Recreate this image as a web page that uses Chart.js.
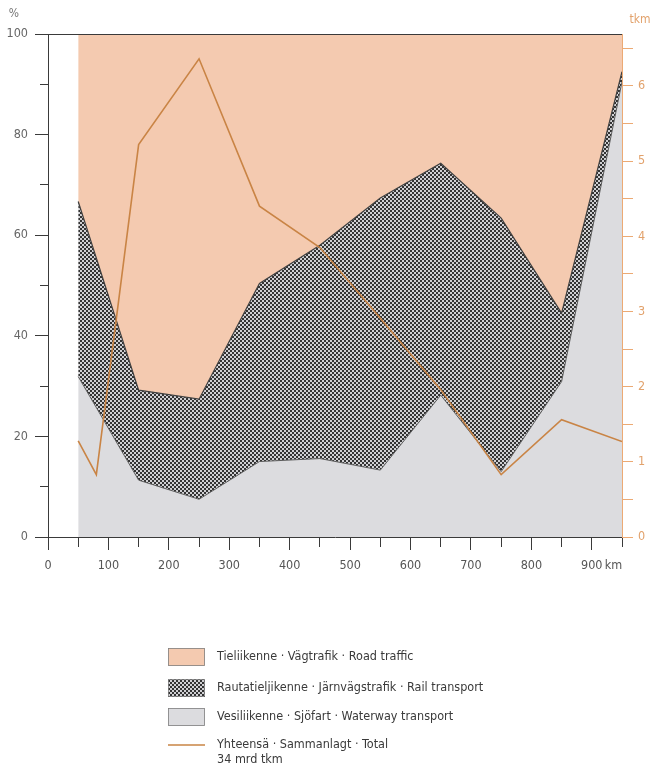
<!DOCTYPE html>
<html>
<head>
<meta charset="utf-8">
<script src="https://cdn.jsdelivr.net/npm/chart.js@4.4.1/dist/chart.umd.min.js"></script>
<style>
  body { margin: 0; background: #fff; }
  canvas { display: block; }
</style>
</head>
<body>
<canvas id="transport-share" width="651" height="770"></canvas>
<script>
// distance bands (km) and modal shares (%)
var distanceKm = [50, 150, 250, 350, 450, 550, 650, 750, 850, 950];
var waterShare = [31.9, 11.3, 7.5, 15.0, 15.6, 13.3, 28.2, 13.0, 30.9, 90.5];
var railShare  = [34.8, 17.9, 19.9, 35.4, 42.4, 54.1, 46.1, 50.4, 13.6, 2.0];
var roadShare  = [33.3, 70.8, 72.6, 49.6, 42.0, 32.6, 25.7, 36.6, 55.5, 7.5];

// total transport work, mrd tkm
var totalKm  = [50, 80, 150, 250, 350, 450, 550, 650, 750, 850, 950];
var totalTkm = [1.28, 0.83, 5.22, 6.36, 4.40, 3.85, 2.91, 1.96, 0.83, 1.56, 1.27];

var seriesLabels = [
    "Tieliikenne · Vägtrafik · Road traffic",
    "Rautatieljikenne · Järnvägstrafik · Rail transport",
    "Vesiliikenne · Sjöfart · Waterway transport",
    "Yhteensä · Sammanlagt · Total"
];
var totalNote = "34 mrd tkm";

var FONT = "'Liberation Sans Narrow', 'DejaVu Sans Condensed', 'Roboto', sans-serif";
var ROAD = "#f4cab0";
var WATER = "#dcdcdf";
var TOTAL = "#c98445";
var AXIS_ORANGE = "#ecaa74";
var DARK = "#3a3a3a";

var canvas = document.getElementById("transport-share");
var ctx = canvas.getContext("2d");

// checkered dot fill for rail
var tile = document.createElement("canvas");
tile.width = 4; tile.height = 4;
var tc = tile.getContext("2d");
tc.fillStyle = "#d0d0d3";
tc.fillRect(0, 0, 4, 4);
tc.fillStyle = "#333333";
tc.fillRect(0, 0, 2, 2);
tc.fillRect(2, 2, 2, 2);
var RAIL = ctx.createPattern(tile, "repeat");

function points(xs, ys) {
    return xs.map(function(x, i) { return { x: x, y: ys[i] }; });
}

var extras = {
    id: "extras",
    afterDraw: function(chart) {
        var c = chart.ctx;
        var area = chart.chartArea;
        var xs = chart.scales.x;
        c.save();
        // top frame line
        c.strokeStyle = DARK;
        c.lineWidth = 1;
        c.beginPath();
        c.moveTo(area.left, area.top + 0.5);
        c.lineTo(area.right, area.top + 0.5);
        c.stroke();

        c.font = "12px " + FONT;
        c.textBaseline = "middle";
        c.fillStyle = "#777";
        c.textAlign = "center";
        c.fillText("%", area.left - 34, area.top - 20);
        c.fillStyle = "#e2a26c";
        c.fillText("tkm", area.right + 18, area.top - 14);
        c.fillStyle = "#555";
        c.font = "12.5px " + FONT;
        c.textAlign = "left";
        c.fillText("km", xs.getPixelForValue(900) + 13, xs.top + 28.5);

        // legend
        var fills = [ROAD, RAIL, WATER];
        var rows = [657, 688, 717];
        c.font = "12.5px " + FONT;
        for (var i = 0; i < 3; i++) {
            c.fillStyle = fills[i];
            c.fillRect(168, rows[i] - 9, 37, 18);
            c.strokeStyle = "#808080";
            c.lineWidth = 0.8;
            c.strokeRect(168.5, rows[i] - 8.5, 36, 17);
            c.fillStyle = DARK;
            c.fillText(seriesLabels[i], 217, rows[i]);
        }
        c.strokeStyle = TOTAL;
        c.lineWidth = 1.6;
        c.beginPath();
        c.moveTo(168, 745);
        c.lineTo(205, 745);
        c.stroke();
        c.fillStyle = DARK;
        c.fillText(seriesLabels[3], 217, 745);
        c.fillText(totalNote, 217, 760);
        c.restore();
    }
};

var chart = new Chart(ctx, {
    type: "line",
    data: {
        datasets: [{
            label: seriesLabels[3],
            data: points(totalKm, totalTkm),
            yAxisID: "y2",
            borderColor: TOTAL,
            borderWidth: 1.6,
            pointRadius: 0,
            fill: false,
            tension: 0
        }, {
            label: seriesLabels[2],
            data: points(distanceKm, waterShare),
            yAxisID: "y",
            backgroundColor: WATER,
            borderColor: "#5a5a5a",
            borderWidth: 1,
            pointRadius: 0,
            fill: "origin",
            tension: 0
        }, {
            label: seriesLabels[1],
            data: points(distanceKm, railShare),
            yAxisID: "y",
            backgroundColor: RAIL,
            borderColor: "#404040",
            borderWidth: 1.2,
            pointRadius: 0,
            fill: "-1",
            tension: 0
        }, {
            label: seriesLabels[0],
            data: points(distanceKm, roadShare),
            yAxisID: "y",
            backgroundColor: ROAD,
            borderWidth: 0,
            pointRadius: 0,
            fill: "-1",
            tension: 0
        }]
    },
    options: {
        responsive: false,
        animation: false,
        layout: { padding: { top: 34, left: 0, right: 0, bottom: 0 } },
        plugins: {
            legend: { display: false },
            tooltip: { enabled: false }
        },
        scales: {
            x: {
                type: "linear",
                position: "bottom",
                min: 0,
                max: 950,
                border: { color: DARK, width: 1 },
                grid: {
                    drawOnChartArea: false,
                    tickLength: 13,
                    color: DARK,
                    tickBorderDash: function(c) {
                        return c.tick && c.tick.value % 100 === 0 ? [] : [9, 100];
                    }
                },
                ticks: {
                    stepSize: 50,
                    autoSkip: false,
                    maxRotation: 0,
                    padding: 8,
                    color: "#555",
                    font: { family: FONT, size: 12.5 },
                    callback: function(v) { return v % 100 === 0 ? String(v) : ""; }
                },
                afterFit: function(s) { s.height = 233; }
            },
            y: {
                position: "left",
                stacked: true,
                min: 0,
                max: 100,
                border: { color: DARK, width: 1 },
                grid: {
                    drawOnChartArea: false,
                    tickLength: 13,
                    color: DARK,
                    tickBorderDash: function(c) {
                        return c.tick && c.tick.value % 20 === 0 ? [] : [0, 5, 8, 100];
                    }
                },
                ticks: {
                    stepSize: 10,
                    padding: 7,
                    color: "#666",
                    font: { family: FONT, size: 12.5 },
                    callback: function(v) { return v % 20 === 0 ? String(v) : ""; }
                },
                afterFit: function(s) { s.width = 48; }
            },
            y2: {
                position: "right",
                min: 0,
                max: 6.69,
                border: { color: AXIS_ORANGE, width: 1 },
                grid: {
                    drawOnChartArea: false,
                    tickLength: 11,
                    color: AXIS_ORANGE
                },
                ticks: {
                    stepSize: 0.5,
                    includeBounds: false,
                    padding: 5,
                    color: "#e2a26c",
                    font: { family: FONT, size: 12.5 },
                    callback: function(v) { return Number.isInteger(v) ? String(v) : ""; }
                },
                afterFit: function(s) { s.width = 29; }
            }
        }
    },
    plugins: [extras]
});
</script>
</body>
</html>
